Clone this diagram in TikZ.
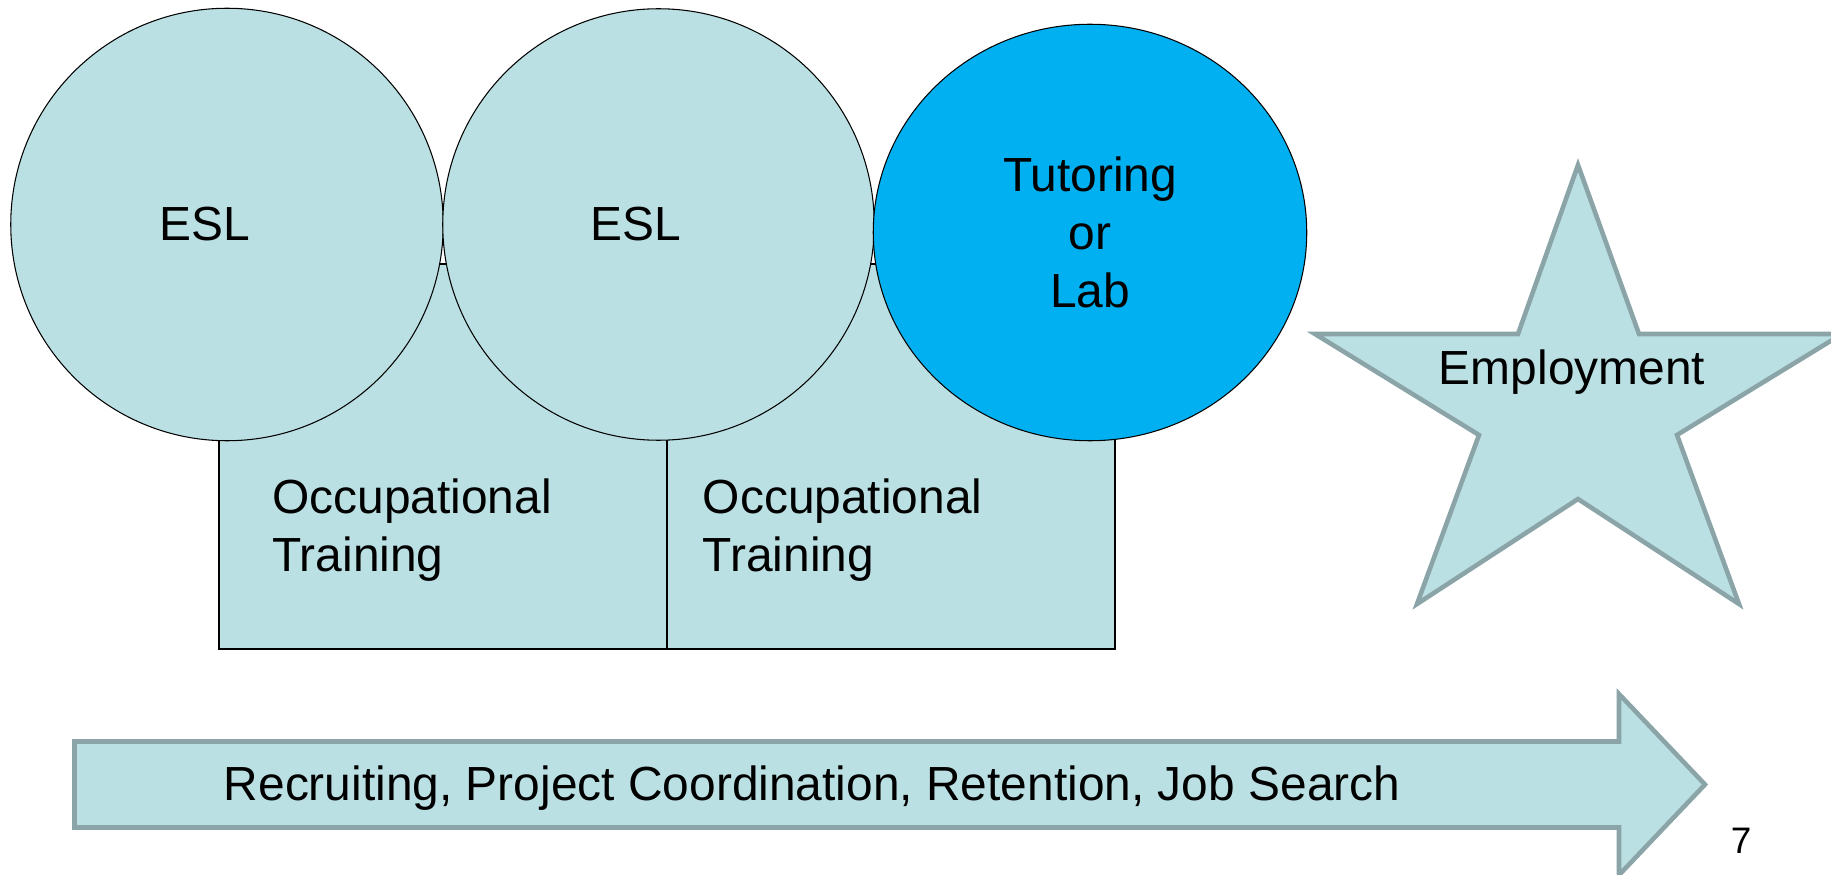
\documentclass[tikz,border=0pt]{standalone}
\usepackage{fontspec}
\setmainfont{Liberation Sans}
\usepackage{xcolor}
\usepackage{tikz}
\usetikzlibrary{shapes.geometric,positioning,calc}

\definecolor{paleblue}{RGB}{187,224,227}
\definecolor{brightblue}{RGB}{0,176,240}
\definecolor{edgegray}{RGB}{138,164,168}

\tikzset{
  bubble/.style={circle, draw=black, fill=paleblue, line width=0.6pt, inner sep=0pt},
  block/.style={rectangle, draw=black, fill=paleblue, line width=0.6pt, minimum width=8.96cm, minimum height=7.7cm, inner sep=0pt},
  txt/.style={font=\fontsize{27.25}{33}\selectfont, inner sep=0pt}
}

\begin{document}
\begin{tikzpicture}
\useasboundingbox (0,0) rectangle (36.62,17.48);

% Training blocks (behind the circles)
\node[block] (occa) at (8.86,8.35) {};
\node[block] (occb) at (17.82,8.35) {};
\node[txt, anchor=west, align=left] (occtxta) at (5.44,6.88) {Occupational\\Training};
\node[txt, anchor=west, align=left] (occtxtb) at (14.05,6.88) {Occupational\\Training};

% ESL circles and tutoring
\node[bubble, minimum size=8.65cm] (esla) at (4.54,12.99) {};
\node[bubble, minimum size=8.63cm] (eslb) at (13.17,12.99) {};
\node[txt] (esltxta) at (4.09,13.0) {ESL};
\node[txt] (esltxtb) at (12.72,13.0) {ESL};
\node[ellipse, draw=black, fill=brightblue, line width=0.6pt, inner sep=0pt,
      minimum width=8.67cm, minimum height=8.33cm, txt, align=center] (tutor) at (21.80,12.83)
      {Tutoring\\or\\Lab};

% Employment star
\draw[line width=2.6pt, draw=edgegray, fill=paleblue, line join=miter]
  (31.56,14.18) -- (32.78,10.80) -- (36.84,10.80) -- (33.54,8.78) -- (34.78,5.40)
  -- (31.56,7.50) -- (28.34,5.40) -- (29.58,8.78) -- (26.30,10.80) -- (30.36,10.80) -- cycle;
\node[txt, anchor=base] (employ) at (31.44,9.78) {Employment};

% Support services arrow
\draw[line width=2.6pt, draw=edgegray, fill=paleblue, line join=miter]
  (1.49,2.65) -- (32.38,2.65) -- (32.38,3.60) -- (34.10,1.79) -- (32.38,-0.02)
  -- (32.38,0.93) -- (1.49,0.93) -- cycle;
\node[txt, anchor=base west] (support) at (4.47,1.466) {Recruiting, Project Coordination, Retention, Job Search};

% page number
\node[font=\fontsize{21}{25}\selectfont, inner sep=0pt, anchor=base] (pagenum) at (34.82,0.42) {7};

\end{tikzpicture}
\end{document}
